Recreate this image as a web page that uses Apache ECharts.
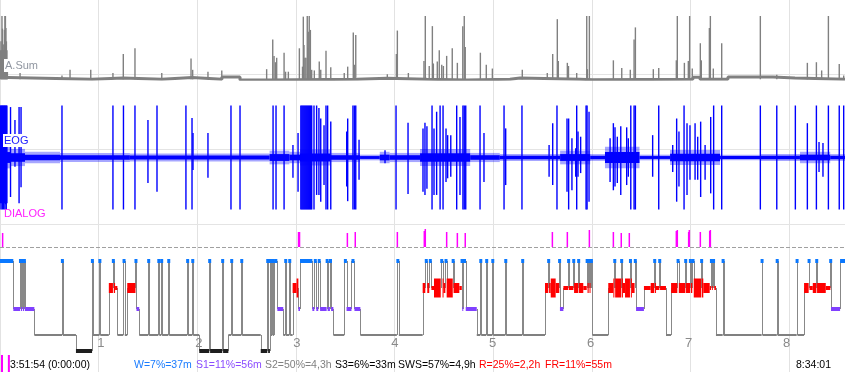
<!DOCTYPE html>
<html><head><meta charset="utf-8">
<script src="https://cdn.jsdelivr.net/npm/echarts/dist/echarts.min.js"></script>
<style>html,body{margin:0;padding:0;background:#fff}#c{width:845px;height:372px}</style>
</head><body><div id="c"></div><script>
// ---------------- DATA (time = minutes since 0:00) ----------------
const END_MIN = 514; // 8:34:01
const hourTicks = ['1','2','3','4','5','6','7','8'];
const startLabel = '3:51:54 (0:00:00)';
const endLabel = '8:34:01';

// A.Sum baseline level steps [minute, amplitude]
const asumBaseline = [[0,2.8],[4.9,0],[56,2],[74.8,0],[98.5,2.8],[116.8,0],[135,3.6],[146,-1.1],[162.4,0],[217.2,1.6],[235.4,0],[259.7,-1.1],[284.1,0],[310.2,2],[316.3,0],[352.8,-0.7],[360.7,0],[421.5,3.2],[425.8,0],[442.8,3.6],[470.2,2],[483.6,0],[514,0]];
// A.Sum spikes [minute, amplitude 0..100]
const asumSpikes = [[0.3,46],[0.6,60],[0.9,46],[1.2,100],[1.5,80],[1.8,55],[2.1,46],[2.4,55],[2.7,78],[3.0,100],[3.3,100],[3.6,81],[3.9,60],[4.2,46],[4.5,20],
[12.2,10],[37.7,6],[42.6,15],[55.2,15],[68.7,10],[75.0,40],[82.1,49],[98.4,10],[116.2,33],[117.2,15],[126.5,12],[134.9,14],[162.2,16],[165.9,63],[166.7,37],[167.6,27],[168.3,34],[172.8,42],[173.7,12],[175.4,12],[182.1,49],[184.0,20],[184.5,99],[184.9,54],[185.5,34],[186.1,34],[186.9,100],[187.2,50],[187.5,75],[188.1,100],[188.8,78],[189.6,15],[191.2,14],[194.2,28],[195.1,15],[198.3,45],[201.2,19],[209.4,10],[211.5,20],[214.9,74],[215.5,23],[216.4,70],[235.6,8],[241.1,40],[241.7,77],[248.4,10],[257.9,29],[258.7,100],[261.1,21],[263.0,84],[263.6,25],[266.0,28],[267.2,46],[268.7,23],[269.7,21],[271.7,37],[275.1,49],[278.2,26],[281.5,84],[282.4,100],[283.0,51],[292.2,42],[295.8,23],[299.5,17],[317.7,15],[332.9,10],[336.2,40],[339.0,95],[339.6,29],[345.1,26],[345.8,21],[350.8,10],[356.9,100],[357.3,16],[358.5,100],[373.1,30],[378.2,18],[383.4,15],[385.7,63],[386.5,82],[397.4,16],[400.7,18],[411.4,30],[412.0,100],[416.3,26],[418.7,29],[419.5,100],[421.1,17],[426.0,57],[426.6,30],[431.5,81],[432.1,100],[433.9,17],[439.0,57],[462.5,100],[472.5,7],[491.1,26],[496.6,27],[499.8,14],[503.9,100],[510.5,24],[513.2,6]];

// EOG noise envelope [minute, half amplitude]
const eogEnvelope = [[0,19],[6.1,15],[15.2,10],[36.5,8],[79,7],[164,12],[176,10],[182.5,14],[200.8,8],[219,5],[231,10],[237,8],[255.5,15],[286,8],[304,6],[340.7,12],[359,6],[368,19],[389,5],[407.6,13],[438,5],[462.3,6],[486.6,10],[505,6]];
// EOG deflections [minute, top, bottom] (clipped at +-100)
const eogSpikes = [[0.2,100,-88],[0.6,100,-100],[1.0,100,-88],[1.4,100,-100],[1.8,100,-88],[2.2,100,-100],[2.6,100,-88],[3.0,100,-100],[3.4,100,-90],[3.8,100,-100],[4.2,100,-88],
[6.4,97,-76],[9.1,72,-18],[11.6,97,-88],[12.8,97,-57],[37.7,100,-100],[68.7,100,-100],[75.1,100,-100],[82.1,100,-100],[90.0,72,-49],[95.5,100,-66],[113.1,100,-100],[116.8,76,-100],[117.4,47,-24],[126.5,47,-39],[140.5,100,-100],[146.0,100,-100],[166.1,100,-100],[167.9,100,-100],[172.8,100,-100],[178.2,24,-39],[181.3,47,-66],
[183.0,100,-100],[183.6,100,-100],[184.2,100,-100],[184.8,100,-100],[185.4,100,-100],[186.0,100,-100],[186.6,100,-100],[187.2,100,-100],[187.8,100,-100],[188.4,100,-100],[189.0,100,-100],[189.6,100,-100],
[191.0,100,-100],[192.6,100,-72],[194.0,95,-72],[195.1,75,-85],[197.1,62,-53],[198.3,100,-100],[199.3,100,-100],[201.2,69,-100],[210.9,50,-56],[211.5,75,-84],[214.7,100,-100],[215.6,100,-100],[216.4,100,-100],[218.4,34,-43],[234.2,14,-11],[240.9,100,-100],[248.2,67,-70],[257.3,56,-66],[258.5,67,-72],[259.7,60,-60],[262.8,100,-100],[264.0,56,-72],[265.6,88,-72],[267.7,100,-100],[269.5,100,-100],[271.3,56,-47],[272.3,43,-40],[274.2,43,-37],[277.8,100,-100],[279.8,78,-72],[281.6,100,-100],[282.4,100,-100],[283.3,100,-100],[292.0,100,-100],[294.4,47,-47],[306.6,100,-100],[307.6,56,-53],[317.5,100,-100],[334.0,24,-37],[336.2,66,-53],[338.8,100,-100],[344.9,75,-66],[345.9,75,-100],[347.9,37,-63],[350.2,18,-37],[350.8,100,-100],[351.6,50,-37],[353.2,40,-30],[356.5,100,-100],[357.1,100,-100],[358.3,88,-85],[371.1,37,-47],[373.1,66,-63],[374.1,58,-56],[375.5,40,-49],[377.6,60,-72],[381.2,58,-53],[382.2,37,-37],[383.7,100,-100],[385.7,100,-100],[386.5,100,-100],[397.0,43,-37],[400.7,100,-100],[409.2,24,-28],[411.6,75,-85],[413.0,50,-56],[416.1,100,-100],[417.9,66,-72],[419.7,62,-43],[422.8,66,-43],[424.4,40,-43],[426.2,69,-76],[428.9,24,-43],[432.3,78,-69],[434.1,100,-100],[439.0,100,-100],[462.5,100,-100],[472.5,100,-100],[483.8,100,-100],[491.1,66,-100],[496.6,100,-100],[498.2,30,-28],[500.6,28,-37],[503.9,100,-100],[510.5,100,-100],[513.2,100,-100]];

// DIALOG events [minute, height]
const dialogEvents = [[1.6,14],[181.6,15],[182.2,15],[211.3,14],[216.1,15],[241.7,15],[258.1,16],[258.7,18],[271.7,15],[278.2,14],[283.0,14],[336.0,15],[345.1,15],[358.5,17],[373.1,15],[377.9,14],[382.8,14],[411.4,16],[412.0,17],[418.9,15],[419.3,17],[426.0,15],[431.7,16],[432.1,17]];
const markerEvents = [1.2, 5.4];

// Hypnogram [start minute, stage, REM density]
const stages = ['W','R','S1','S2','S3'];
const hypnogram = [[0,'W'],[8.1,'S1'],[12.2,'W'],[12.7,'S1'],[13.4,'W'],[13.9,'S1'],[14.6,'W'],[15.1,'S1'],[20.9,'S2'],[37.7,'W'],[38.2,'S2'],[46.2,'S3'],[56.0,'W'],[56.4,'S2'],[60.5,'W'],[61.0,'S2'],[66.2,'R',1],[68.7,'W'],[69.2,'R',1],[70.0,'R',0],[71.4,'S2'],[75.0,'W'],[75.9,'S2'],[77.4,'R',1],[82.4,'W'],[83.0,'S1'],[84.7,'S2'],[90.2,'W'],[90.7,'S2'],[96.3,'W'],[96.9,'S2'],[98.1,'W'],[98.6,'S2'],[102.4,'W'],[102.9,'S2'],[113.9,'W'],[114.4,'S2'],[117.0,'W'],[117.5,'S2'],[121.2,'S3'],[127.3,'W'],[127.8,'S3'],[135.2,'W'],[135.7,'S3'],[138.9,'S2'],[140.7,'W'],[141.2,'S2'],[146.8,'W'],[147.3,'S2'],[158.6,'S3'],[162.6,'W'],[163.1,'S3'],[164.2,'W'],[164.8,'S2'],[165.6,'W'],[166.1,'S2'],[166.7,'W'],[168.7,'S1'],[172.3,'S2'],[173.6,'W'],[174.0,'S2'],[176.0,'W'],[176.5,'S2'],[178.0,'R',1],[180.4,'R',2],[181.5,'S1'],[182.5,'W'],[190.0,'S1'],[191.2,'W'],[192.4,'S1'],[193.6,'W'],[194.7,'S1'],[198.7,'W'],[199.3,'S1'],[200.7,'W'],[201.4,'S1'],[202.8,'S2'],[209.4,'W'],[210.8,'S1'],[213.8,'W'],[215.6,'S1'],[219.2,'S2'],[241.4,'W'],[242.6,'S2'],[257.1,'R',1],[258.7,'W'],[259.9,'R',1],[261.1,'W'],[262.4,'R',0],[264.0,'R',2],[268.1,'W'],[269.3,'R',2],[269.7,'R',1],[270.9,'W'],[271.7,'R',2],[275.4,'W'],[275.9,'R',1],[279.4,'R',0],[280.9,'W'],[281.2,'S1'],[281.8,'W'],[283.3,'S1'],[290.0,'S2'],[292.2,'W'],[292.7,'S2'],[295.8,'W'],[296.3,'S2'],[299.5,'W'],[300.0,'S2'],[307.4,'W'],[307.9,'S2'],[317.7,'W'],[318.2,'S2'],[331.5,'R',1],[333.5,'W'],[334.0,'R',1],[335.0,'R',2],[338.0,'R',1],[340.2,'W'],[340.6,'S1'],[342.7,'R',0],[345.7,'W'],[346.1,'R',0],[348.8,'W'],[349.2,'R',1],[351.8,'W'],[352.2,'R',1],[354.8,'R',0],[356.9,'W'],[357.4,'R',1],[358.1,'W'],[358.6,'R',1],[359.2,'W'],[360.3,'S2'],[370.0,'R',1],[373.1,'R',2],[373.7,'W'],[374.2,'R',2],[377.9,'W'],[378.4,'R',2],[378.8,'R',1],[380.2,'R',2],[383.2,'W'],[383.8,'R',2],[384.3,'R',1],[386.0,'W'],[386.9,'S1'],[391.7,'R',0],[395.8,'R',1],[398.0,'W'],[398.5,'R',1],[399.0,'R',0],[401.1,'W'],[401.5,'R',0],[405.1,'S2'],[408.2,'R',1],[412.0,'W'],[412.9,'R',1],[416.9,'W'],[417.3,'R',1],[419.7,'W'],[420.2,'R',1],[421.1,'W'],[422.0,'R',2],[426.6,'W'],[427.0,'R',2],[427.8,'R',1],[431.7,'R',0],[432.5,'W'],[433.0,'R',0],[433.6,'W'],[434.5,'R',0],[435.5,'S2'],[439.6,'W'],[440.1,'S2'],[463.3,'W'],[463.8,'S2'],[472.5,'W'],[473.0,'S2'],[484.6,'W'],[485.1,'S2'],[489.1,'R',1],[491.9,'W'],[492.4,'R',0],[494.4,'R',1],[496.6,'W'],[497.0,'R',1],[502.3,'R',0],[505.1,'W'],[505.5,'S1'],[511.0,'W']];

const statsLabels = ['W=7%=37m','S1=11%=56m','S2=50%=4,3h','S3=6%=33m','SWS=57%=4,9h','R=25%=2,2h','FR=11%=55m'];

// ---------------- STYLE / LAYOUT ----------------
const FONT = '"Liberation Sans", Arial, sans-serif';
const TXT = '10.5px ' + FONT;
const statsColors = ['#1a7cff','#8a4cff','#808080','#000000','#000000','#ff0000','#ff0000'];
const statsX = [134,196,265,335,398,479,545];
const stageLevel = {W:0, R:27, S1:48, S2:74, S3:90};
const stageColor = {W:'#0a78ff', R:'#ff0000', S1:'#8040ff', S2:'#808080', S3:'#1e1e1e'};
const stageThick = {W:4, S1:4, S2:2, S3:4};
const remThick = [4, 10, 19];

// ---------------- BUILD ----------------
const hypSegs = hypnogram.map((s, i) => [
  s[0], i + 1 < hypnogram.length ? hypnogram[i + 1][0] : END_MIN,
  stages.indexOf(s[1]), s[2] || 0, i > 0 ? stages.indexOf(hypnogram[i - 1][1]) : -1
]);
const eogBands = eogEnvelope.map((e, i) => [e[0], i + 1 < eogEnvelope.length ? eogEnvelope[i + 1][0] : END_MIN, e[1]]);

function vlines(color, width) {
  return function (params, api) {
    const a = api.coord([api.value(0), api.value(1)]);
    const b = api.coord([api.value(0), api.value(2)]);
    return {type: 'line', shape: {x1: a[0], y1: a[1], x2: b[0], y2: b[1]}, style: {stroke: color, lineWidth: width}};
  };
}
function hline(gi, values, style) {
  return {type: 'custom', xAxisIndex: gi, yAxisIndex: gi, z: 1, silent: true, clip: false,
    data: values.map(v => [v]),
    renderItem: (p, api) => {
      const a = api.coord([0, api.value(0)]), b = api.coord([END_MIN, api.value(0)]);
      const y = Math.round(a[1]) + 0.5;
      return {type: 'line', shape: {x1: a[0], y1: y, x2: b[0], y2: y}, style: style};
    }};
}
function band(scale, opacity) {
  return function (p, api) {
    const amp = api.value(2) * scale;
    const a = api.coord([api.value(0), amp]), b = api.coord([api.value(1), -amp]);
    return {type: 'rect', shape: {x: a[0], y: a[1], width: b[0] - a[0], height: b[1] - a[1]}, style: {fill: '#0000ff', opacity: opacity}};
  };
}
const xAx = (gi, extra) => Object.assign({type: 'value', gridIndex: gi, min: 0, max: END_MIN, show: false}, extra || {});
const yAx = (gi, min, max, extra) => Object.assign({type: 'value', gridIndex: gi, min: min, max: max, show: false}, extra || {});

const option = {
  animation: false,
  backgroundColor: '#ffffff',
  grid: [
    {left: 0, right: 0, top: 0, bottom: 0},
    {left: 0, right: 0, top: 0, height: 335},
    {left: 0, right: 0, top: 16, height: 63.3},
    {left: 0, right: 0, top: 105.5, height: 104},
    {left: 0, right: 0, top: 224, height: 23},
    {left: 0, right: 0, top: 261, height: 90},
    {left: 0, right: 0, top: 355, height: 17}
  ],
  xAxis: [
    xAx(0, {show: true, position: 'top', interval: 60,
      axisLine: {show: false}, axisLabel: {show: false},
      axisTick: {show: true, inside: true, length: 3, lineStyle: {color: '#d2d2d2'}},
      minorTick: {show: true, splitNumber: 6, length: 3, lineStyle: {color: '#d2d2d2'}},
      splitLine: {show: true, lineStyle: {color: '#e2e2e2', width: 1}}}),
    xAx(1, {show: true, position: 'bottom', interval: 60,
      axisLine: {show: false}, axisTick: {show: false}, splitLine: {show: false},
      axisLabel: {show: true, margin: 2, color: '#8a8a8a', fontSize: 13, fontFamily: FONT,
        formatter: v => (v > 0 && v % 60 === 0 && v / 60 <= hourTicks.length) ? hourTicks[v / 60 - 1] : ''}}),
    xAx(2), xAx(3), xAx(4), xAx(5), xAx(6)
  ],
  yAxis: [
    yAx(0, 0, 1), yAx(1, 0, 1), yAx(2, 0, 100), yAx(3, -100, 100), yAx(4, 0, 23),
    yAx(5, 0, 90, {inverse: true}), yAx(6, 0, 1)
  ],
  series: [
    hline(2, [8.4], {stroke: '#e4e4e4', lineWidth: 1}),
    hline(3, [16], {stroke: '#e4e4e4', lineWidth: 1}),
    hline(4, [23], {stroke: '#e4e4e4', lineWidth: 1}),
    hline(4, [0], {stroke: '#a0a0a0', lineWidth: 1, lineDash: [4, 2]}),
    // A.Sum
    {type: 'line', xAxisIndex: 2, yAxisIndex: 2, step: 'end', symbol: 'none', z: 2,
      data: asumBaseline, lineStyle: {color: '#808080', width: 3}},
    {type: 'custom', xAxisIndex: 2, yAxisIndex: 2, z: 3, clip: false,
      data: asumSpikes.map(d => [d[0], 0, d[1]]), encode: {x: 0, y: [1, 2]},
      renderItem: vlines('#808080', 1.4)},
    // EOG: ragged outer band + solid core
    {type: 'custom', xAxisIndex: 3, yAxisIndex: 3, z: 2, clip: false,
      data: eogBands, encode: {x: [0, 1], y: 2}, renderItem: band(1.1, 0.35)},
    {type: 'custom', xAxisIndex: 3, yAxisIndex: 3, z: 2, clip: false,
      data: eogBands, encode: {x: [0, 1], y: 2}, renderItem: band(0.55, 1)},
    {type: 'custom', xAxisIndex: 3, yAxisIndex: 3, z: 3, clip: false,
      data: eogSpikes, encode: {x: 0, y: [1, 2]},
      renderItem: vlines('#0000ff', 1.4)},
    // DIALOG
    {type: 'custom', xAxisIndex: 4, yAxisIndex: 4, z: 3, clip: false,
      data: dialogEvents.map(d => [d[0], 0, d[1]]), encode: {x: 0, y: [1, 2]},
      renderItem: vlines('#ff00ff', 1.5)},
    {type: 'custom', xAxisIndex: 6, yAxisIndex: 6, z: 3, clip: false,
      data: markerEvents.map(t => [t, 0, 1]), encode: {x: 0, y: [1, 2]},
      renderItem: vlines('#ff00ff', 2)},
    // hypnogram connectors
    {type: 'custom', xAxisIndex: 5, yAxisIndex: 5, z: 3, clip: false,
      data: hypSegs, encode: {x: [0, 1], y: 2},
      renderItem: (p, api) => {
        const prev = api.value(4), cur = api.value(2);
        if (prev < 0 || prev === cur) return null;
        const t = api.value(0);
        const a = api.coord([t, stageLevel[stages[prev]]]), b = api.coord([t, stageLevel[stages[cur]]]);
        const x = Math.round(a[0]) + 0.5;
        return {type: 'line', shape: {x1: x, y1: a[1], x2: x, y2: b[1]}, style: {stroke: '#888888', lineWidth: 1}};
      }},
    // hypnogram stage bars
    {type: 'custom', xAxisIndex: 5, yAxisIndex: 5, z: 4, clip: false,
      data: hypSegs, encode: {x: [0, 1], y: 2},
      renderItem: (p, api) => {
        const s = stages[api.value(2)];
        const lv = stageLevel[s];
        const a = api.coord([api.value(0), lv]), b = api.coord([api.value(1), lv]);
        let x = a[0], w = b[0] - a[0];
        const mw = s === 'W' ? 3 : 1;
        if (w < mw) { x = (a[0] + b[0]) / 2 - mw / 2; w = mw; }
        const h = s === 'R' ? remThick[api.value(3)] : stageThick[s];
        return {type: 'rect', shape: {x: x, y: a[1] - h / 2, width: w, height: h}, style: {fill: stageColor[s]}};
      }}
  ],
  graphic: [
    {type: 'text', left: 4, top: 59, z: 100, style: {text: 'A.Sum', fill: '#9096a0', font: '11px ' + FONT, backgroundColor: '#ffffff', padding: [1, 1, 1, 1]}},
    {type: 'text', left: 3, top: 134, z: 100, style: {text: 'EOG', fill: '#1a1aff', font: '11px ' + FONT, backgroundColor: '#ffffff', padding: [1, 1, 1, 1]}},
    {type: 'text', left: 4, top: 208, z: 100, style: {text: 'DIALOG', fill: '#ff22ff', font: '11px ' + FONT}},
    {type: 'text', left: 10, top: 360, z: 100, style: {text: startLabel, fill: '#000', font: TXT}},
    {type: 'text', left: 796, top: 360, z: 100, style: {text: endLabel, fill: '#000', font: TXT}}
  ].concat(statsLabels.map((t, i) => ({type: 'text', left: statsX[i], top: 360, z: 100,
    style: {text: t, fill: statsColors[i], font: TXT}})))
};
const chart = echarts.init(document.getElementById('c'), null, {width: 845, height: 372});
chart.setOption(option);
</script></body></html>
